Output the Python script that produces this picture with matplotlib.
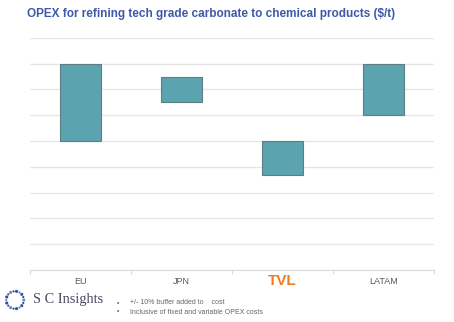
import numpy as np
import matplotlib
matplotlib.use("Agg")
import matplotlib.pyplot as plt

# OPEX ranges, in gridline units (axis has no labels)
regions = ["EU", "JPN", "TVL", "LATAM"]
low = [5.0, 6.5, 3.7, 6.0]
high = [8.0, 7.5, 5.0, 8.0]

notes = ["+/- 10% buffer added to    cost",
         "Inclusive of fixed and variable OPEX costs"]

plt.rcParams['font.family'] = ['Liberation Sans', 'DejaVu Sans']

fig = plt.figure(figsize=(4.54, 3.22), dpi=100)
ax = fig.add_axes([30 / 454, 52 / 322, 404 / 454, 232.2 / 322])

x = np.arange(len(regions))
heights = [h - l for l, h in zip(low, high)]
ax.bar(x, heights, bottom=low, width=0.4, color="#5ba3ae",
       edgecolor="#5f7d84", linewidth=0.8, zorder=3)

ax.set_xlim(-0.5, len(regions) - 0.5)
ax.set_ylim(0, 9)
ax.set_yticks(np.arange(1, 10))
ax.yaxis.grid(True, color="#e6e6e6", linewidth=1.0)
ax.tick_params(axis="y", left=False, labelleft=False)
for s in ["left", "right", "top"]:
    ax.spines[s].set_visible(False)
ax.spines["bottom"].set_color("#d9d9d9")

ax.set_xticks(x)
ax.set_xticklabels(regions, fontsize=6.5, color="#595959")
ax.tick_params(axis="x", length=0, pad=5)
ax.set_xticks(np.arange(-0.5, len(regions)), minor=True)
ax.tick_params(axis="x", which="minor", length=3, color="#d9d9d9", width=0.8)
tvl = ax.get_xticklabels()[2]
tvl.set_color("#f47a1f")
tvl.set_fontweight("bold")
tvl.set_fontsize(11)
tvl.set_y(0.012)

fig.text(27 / 454, 1 - 14 / 322, "OPEX for refining tech grade carbonate to chemical products ($/t)",
         fontsize=8.5, fontweight="bold", color="#3f59a8", va="center", ha="left")

# logo: ring of dots
lax = fig.add_axes([4 / 454, 1 - 311 / 322, 22 / 454, 22 / 322])
lax.set_xlim(-1.25, 1.25)
lax.set_ylim(-1.25, 1.25)
lax.set_aspect("equal")
lax.axis("off")
ang = np.linspace(0, 2 * np.pi, 18, endpoint=False)
sizes = np.where(np.arange(18) % 2 == 0, 5.0, 2.5)
cols = np.where(np.arange(18) % 3 == 0, "#6f86c6", "#2f4fa5")
lax.scatter(np.cos(ang), np.sin(ang), s=sizes, c=cols, linewidths=0)
fig.text(33 / 454, 1 - 300 / 322, "S C Insights", fontsize=10.3, color="#4e4560",
         family="Liberation Serif", va="center", ha="left")

for i, n in enumerate(notes):
    yy = 1 - (303 + 9 * i) / 322
    fig.text(117 / 454, yy, "\u2022", fontsize=5, color="#666666", va="center")
    fig.text(130 / 454, yy, n, fontsize=5, color="#666666", va="center")

fig.savefig("out.png", dpi=100)
